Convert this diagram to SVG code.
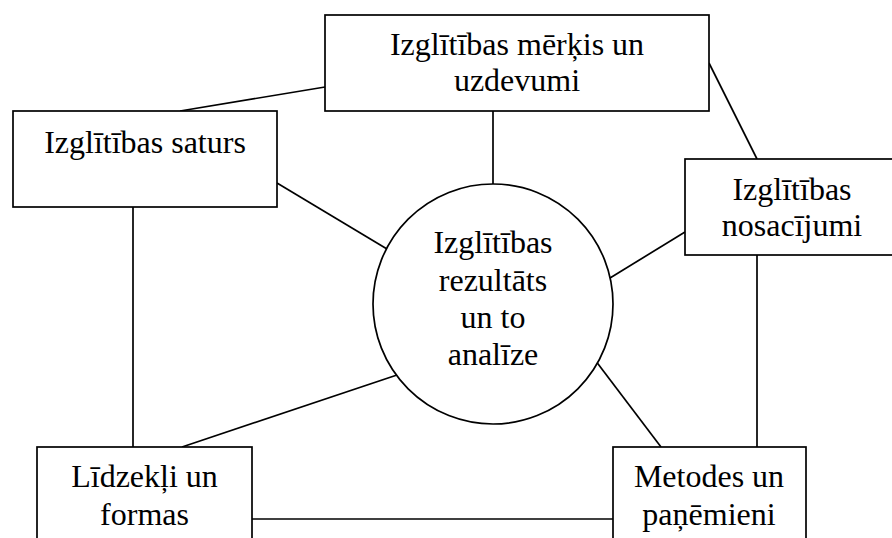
<svg xmlns="http://www.w3.org/2000/svg" width="892" height="538" viewBox="0 0 892 538">
<style>
.box{fill:#fff;stroke:#000;stroke-width:1.7}
.ln{stroke:#000;stroke-width:1.7;fill:none}
text{font-family:"Liberation Serif","Times New Roman",serif;font-size:32px;fill:#000;text-anchor:middle}
</style>
<rect width="892" height="538" fill="#fff"/>
<g id="connectors">
<line class="ln" x1="180" y1="111" x2="325" y2="87"/>
<line class="ln" x1="493" y1="111" x2="493" y2="184"/>
<line class="ln" x1="709" y1="63" x2="757" y2="159"/>
<line class="ln" x1="277" y1="183" x2="397" y2="255"/>
<line class="ln" x1="685" y1="232" x2="610" y2="278"/>
<line class="ln" x1="133" y1="207" x2="133" y2="447"/>
<line class="ln" x1="757" y1="255" x2="757" y2="447"/>
<line class="ln" x1="397" y1="375" x2="182" y2="447"/>
<line class="ln" x1="589" y1="352" x2="661" y2="447"/>
<line class="ln" x1="252" y1="519" x2="613" y2="519"/>
</g>
<g id="merkis">
<rect class="box" x="325" y="15" width="384" height="96"/>
<text x="517" y="55">Izglītības mērķis un</text>
<text x="517" y="91">uzdevumi</text>
</g>
<g id="saturs">
<rect class="box" x="13" y="111" width="264" height="96"/>
<text x="145" y="153">Izglītības saturs</text>
</g>
<g id="nosacijumi">
<rect class="box" x="685" y="159" width="215" height="96"/>
<text x="792" y="200">Izglītības</text>
<text x="792" y="236">nosacījumi</text>
</g>
<g id="rezultats">
<circle class="box" cx="493" cy="304" r="120"/>
<text x="493" y="253">Izglītības</text>
<text x="493" y="291">rezultāts</text>
<text x="493" y="328">un to</text>
<text x="493" y="365">analīze</text>
</g>
<g id="lidzekli">
<rect class="box" x="37" y="447" width="215" height="100"/>
<text x="144.5" y="487">Līdzekļi un</text>
<text x="144.5" y="525">formas</text>
</g>
<g id="metodes">
<rect class="box" x="613" y="447" width="193" height="100"/>
<text x="709" y="487">Metodes un</text>
<text x="709" y="525">paņēmieni</text>
</g>
</svg>
